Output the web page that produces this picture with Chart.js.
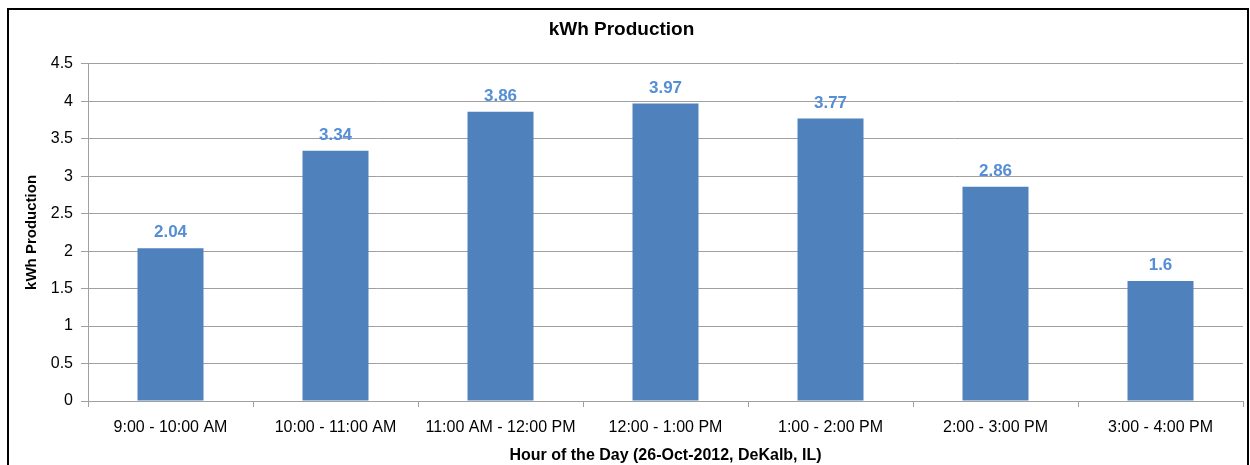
<!DOCTYPE html>
<html>
<head>
<meta charset="utf-8">
<style type="text/css">
	body{
		margin: 0;
		background: white;
	}
	.wrap{
		position: relative;
		width: 1250px;
		height: 465px;
		overflow: hidden;
	}
	.frame{
		position: absolute;
		left: 7px;
		top: 8px;
		width: 1238px;
		height: 480px;
		border: 2px solid black;
		border-bottom: none;
	}
	#myChart{
		position: absolute;
		left: 0;
		top: 0;
	}
</style>
</head>
<body>
<div class="wrap">
	<div class="frame"></div>
	<canvas id="myChart" width="1250" height="465"></canvas>
</div>

<script src="https://cdn.jsdelivr.net/npm/chart.js"></script>

<script type="text/javascript">

	var horas = ['9:00 - 10:00 AM', '10:00 - 11:00 AM', '11:00 AM - 12:00 PM', '12:00 - 1:00 PM', '1:00 - 2:00 PM', '2:00 - 3:00 PM', '3:00 - 4:00 PM']
	var producao = [2.04, 3.34, 3.86, 3.97, 3.77, 2.86, 1.6]
	var yTicks = [0, 0.5, 1, 1.5, 2, 2.5, 3, 3.5, 4, 4.5]

	var fonte = "Liberation Sans, Arial, sans-serif"

	// rotulos em cima das barras
	var rotulos = {
		id: 'rotulos',
		afterDatasetsDraw: chart=>{
			var ctx = chart.ctx
			var meta = chart.getDatasetMeta(0)
			ctx.save()
			ctx.font = 'bold 17px ' + fonte
			ctx.fillStyle = '#558ED5'
			ctx.textAlign = 'center'
			ctx.textBaseline = 'bottom'
			meta.data.forEach((bar, i)=>{
				ctx.fillText(String(producao[i]), bar.x, bar.y - 7)
			})
			ctx.restore()
		}
	}

	var cfg = {
		type: 'bar',
		data: {
			labels: horas,
			datasets: [{
				label: 'kWh Production',
				data: producao,
				backgroundColor: '#4F81BD',
				borderWidth: 0,
				barPercentage: 0.4,
				categoryPercentage: 1
			}]
		},
		options: {
			responsive: false,
			animation: false,
			layout: {
				padding: {left: 0, right: 7, top: 0, bottom: 0}
			},
			scales: {
				x: {
					offset: true,
					grid: {
						offset: true,
						drawOnChartArea: false,
						color: '#A0A0A0',
						tickLength: 6
					},
					border: {color: '#A0A0A0'},
					ticks: {
						color: '#000',
						font: {family: fonte, size: 16},
						maxRotation: 0,
						autoSkip: false,
						padding: 11
					},
					title: {
						display: true,
						text: 'Hour of the Day (26-Oct-2012, DeKalb, IL)',
						color: '#000',
						font: {family: fonte, size: 16, weight: 'bold'},
						padding: {top: 2, bottom: 0}
					},
					afterFit: scale=>{ scale.height = 64 }
				},
				y: {
					min: 0,
					max: 4.5,
					afterBuildTicks: scale=>{
						scale.ticks = yTicks.map(v=>({value: v}))
					},
					grid: {
						color: '#A0A0A0',
						tickLength: 7
					},
					border: {color: '#A0A0A0'},
					ticks: {
						color: '#000',
						font: {family: fonte, size: 16},
						padding: 8,
						callback: v=>String(v)
					},
					title: {
						display: true,
						text: 'kWh Production',
						color: '#000',
						font: {family: fonte, size: 15, weight: 'bold'},
						padding: {top: 23, bottom: 0}
					},
					afterFit: scale=>{ scale.width = 88 }
				}
			},
			plugins: {
				legend: {display: false},
				tooltip: {enabled: false},
				title: {
					display: true,
					text: 'kWh Production',
					color: '#000',
					font: {family: fonte, size: 19, weight: 'bold'},
					padding: {top: 18, bottom: 23}
				}
			}
		},
		plugins: [rotulos]
	}

	new Chart(document.getElementById('myChart'), cfg)

</script>
</body>
</html>
